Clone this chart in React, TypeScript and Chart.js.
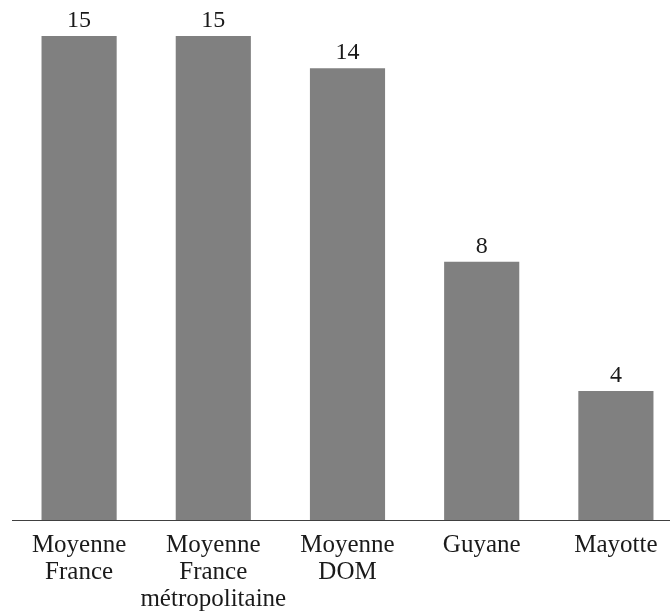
import React, { useEffect, useRef } from "react";
import { Chart, registerables } from "chart.js";

Chart.register(...registerables);

const categories: (string | string[])[] = [
  ["Moyenne", "France"],
  ["Moyenne", "France", "métropolitaine"],
  ["Moyenne", "DOM"],
  "Guyane",
  "Mayotte",
];
const values: number[] = [15, 15, 14, 8, 4];
const yMin = 0;
const yMax = 15;

const FONT = "'Liberation Serif', 'Times New Roman', serif";

const valueLabels = {
  id: "valueLabels",
  afterDatasetsDraw(chart: any) {
    const ctx = chart.ctx;
    const meta = chart.getDatasetMeta(0);
    ctx.save();
    ctx.font = `24px ${FONT}`;
    ctx.fillStyle = "#1a1a1a";
    ctx.textAlign = "center";
    ctx.textBaseline = "alphabetic";
    meta.data.forEach((bar: any, i: number) => {
      ctx.fillText(String(values[i]), bar.x, bar.y - 9);
    });
    ctx.restore();
  },
};

export default function App() {
  const ref = useRef<HTMLCanvasElement>(null);
  useEffect(() => {
    if (!ref.current) return;
    const chart = new Chart(ref.current, {
      type: "bar",
      data: {
        labels: categories,
        datasets: [
          {
            data: values,
            backgroundColor: "#808080",
            borderWidth: 0,
            barPercentage: 0.56,
            categoryPercentage: 1,
          },
        ],
      },
      options: {
        animation: false,
        responsive: false,
        maintainAspectRatio: false,
        layout: { padding: { top: 36, left: 12, right: 7, bottom: 5 } },
        plugins: {
          legend: { display: false },
          tooltip: { enabled: false },
        },
        scales: {
          x: {
            grid: { display: false, drawTicks: false },
            border: { display: true, color: "#404040", width: 1 },
            ticks: {
              color: "#1a1a1a",
              padding: 12,
              maxRotation: 0,
              autoSkip: false,
              font: { family: FONT, size: 25, lineHeight: 1.08 },
            },
          },
          y: {
            display: false,
            min: yMin,
            max: yMax,
          },
        },
      },
      plugins: [valueLabels],
    });
    return () => chart.destroy();
  }, []);
  return (
    <div style={{ position: "fixed", left: 0, top: 0, width: 670, height: 613, overflow: "hidden", background: "#fff" }}>
      <canvas ref={ref} width={690} height={630} style={{ position: "absolute", left: 0, top: 0, width: 690, height: 630 }} />
    </div>
  );
}
